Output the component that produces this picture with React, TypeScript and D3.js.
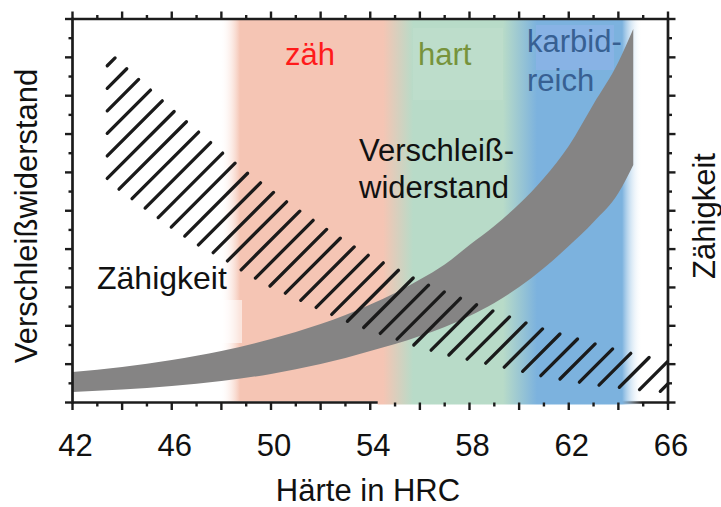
import React from 'react';
import * as d3 from 'd3';

const W = 721;
const H = 507;

// axis ticks
const xTicks = d3.range(42, 67, 1);
const xLabels = [42, 46, 50, 54, 58, 62, 66];
const yTicks = d3.range(0, 21, 1);

// Verschleißwiderstand (gray band)
const wearX = [42, 44, 46, 48, 50, 52, 53, 54, 55, 56, 57, 58, 59, 60, 61, 62, 63, 64, 64.6];
const wearUpper = [1.59, 1.85, 2.22, 2.69, 3.31, 4.09, 4.56, 5.11, 5.71, 6.41, 7.2, 8.21, 9.2, 10.35, 11.71, 13.38, 15.57, 17.76, 19.48];
const wearLower = [0.55, 0.68, 0.86, 1.12, 1.49, 2.01, 2.32, 2.69, 3.05, 3.47, 3.94, 4.51, 5.19, 6.02, 7.01, 8.16, 9.41, 10.92, 12.39];

// Zähigkeit (hatched band)
const toughX = [43.4, 44, 45, 46, 47, 48, 49, 50, 51, 52, 53, 54, 55, 56, 57, 58, 59, 60, 61, 62, 63, 64, 65, 66];
const toughUpper = [18.36, 17.62, 16.46, 15.28, 14.2, 13.06, 12.01, 11.05, 10.12, 9.23, 8.39, 7.61, 6.99, 6.31, 5.76, 5.24, 4.75, 4.28, 3.81, 3.44, 3.08, 2.71, 2.42, 2.11];
const toughLower = [11.6, 11.0, 10.07, 9.13, 8.27, 7.59, 6.75, 6.05, 5.45, 4.85, 4.28, 3.78, 3.34, 2.89, 2.53, 2.23, 1.96, 1.67, 1.36, 1.15, 0.94, 0.8, 0.65, 0.55];

// Hardness zones (gradient stops in HRC)
const zoneStops = [47.95, 48.75, 54.52, 55.73, 59.35, 60.72, 64.15, 64.96];
const zoneColors = ['#ffffff', '#f5c5b4', '#f5c5b4', '#b8dbc8', '#b8dbc8', '#7cb2de', '#7cb2de', '#ffffff'];
const zoneOpacity = [0, 1, 1, 1, 1, 1, 1, 0];

const FONT = "'Liberation Sans', Arial, Helvetica, sans-serif";
const AX = '#1c1c1c';

export default function App() {
  const x = d3.scaleLinear().domain([42, 66]).range([72.5, 668]);
  const y = d3.scaleLinear().domain([0, 20]).range([402.5, 19]);

  const wearData = wearX.map((v, i) => ({ x: v, lo: wearLower[i], hi: wearUpper[i] }));
  const wearArea = d3
    .area<{ x: number; lo: number; hi: number }>()
    .x((d) => x(d.x))
    .y0((d) => y(d.lo))
    .y1((d) => y(d.hi))
    .curve(d3.curveMonotoneX);

  // hatch lines: 45° lines x + y = c, clipped between edges
  const upPx = d3.scaleLinear().domain(toughX.map((v) => x(v))).range(toughUpper.map((v) => y(v))).clamp(true);
  const loPx = d3.scaleLinear().domain(toughX.map((v) => x(v))).range(toughLower.map((v) => y(v))).clamp(true);
  const xmin = x(toughX[0]);
  const xmax = x(toughX[toughX.length - 1]);
  const solve = (f: (p: number) => number, c: number) => {
    let a = xmin, b = xmax;
    for (let i = 0; i < 50; i++) {
      const m = (a + b) / 2;
      if (f(m) < c) a = m; else b = m;
    }
    return (a + b) / 2;
  };
  const F = (p: number) => p + upPx(p);
  const G = (p: number) => p + loPx(p);
  const hatch: { x1: number; y1: number; x2: number; y2: number }[] = [];
  const c0 = 173;
  const step = 22.53;
  for (let k = -3; k < 60; k++) {
    const c = c0 + step * k;
    if (F(xmin) > c) continue;
    if (G(xmax) < c) continue;
    const xL = G(xmin) >= c ? xmin : solve(G, c);
    const xU = F(xmax) <= c ? xmax : solve(F, c);
    if (xU - xL < 1) continue;
    hatch.push({ x1: xL, y1: c - xL, x2: xU, y2: c - xU });
  }

  const x0 = x(42), x1 = x(66);
  const top = y(20), bottom = y(0);

  return (
    <svg
      width={W}
      height={H}
      viewBox={`0 0 ${W} ${H}`}
      style={{ position: 'absolute', left: 0, top: 0, background: '#fff', fontFamily: FONT }}
    >
      <defs>
        <linearGradient id="zones" gradientUnits="userSpaceOnUse" x1={x0} x2={x1} y1={0} y2={0}>
          {zoneStops.map((s, i) => (
            <stop key={i} offset={(x(s) - x0) / (x1 - x0)} stopColor={zoneColors[i]} stopOpacity={zoneOpacity[i]} />
          ))}
        </linearGradient>
      </defs>

      {/* zones */}
      <rect x={x(zoneStops[0])} y={top + 1} width={x(zoneStops[7]) - x(zoneStops[0])} height={bottom - top - 2} fill="url(#zones)" />
      {/* label boxes */}
      <rect x={413} y={28} width={90} height={72} fill="#ffffff" opacity={0.07} />
      <rect x={536} y={25} width={78} height={45} fill="#b4b4ff" opacity={0.22} />
      <rect x={221} y={300} width={21} height={43} fill="#ffffff" opacity={0.55} />

      {/* gray wear band */}
      <path d={wearArea(wearData) || ''} fill="#858484" />

      {/* hatched toughness band */}
      <g stroke="#1a1a1a" strokeWidth={3.3} strokeLinecap="round">
        {hatch.map((h, i) => (
          <line key={i} x1={h.x1} y1={h.y1} x2={h.x2} y2={h.y2} />
        ))}
      </g>

      {/* axes frame */}
      <g stroke={AX} strokeWidth={2.7} fill="none">
        <line x1={x0} y1={top} x2={x1} y2={top} />
        <line x1={x0} y1={bottom} x2={x1} y2={bottom} />
        <line x1={x0} y1={top - 1.3} x2={x0} y2={bottom + 1.3} />
        <line x1={x1} y1={top - 1.3} x2={x1} y2={bottom + 1.3} />
      </g>
      {/* cover part of bottom axis by zones */}
      <rect x={x(54.3)} y={bottom - 2} width={x(zoneStops[7]) - x(54.3)} height={4} fill="url(#zones)" />

      {/* ticks */}
      <g stroke={AX} strokeWidth={2.4}>
        {xTicks.map((t) => {
          const len = t % 2 === 0 ? 7.5 : 4;
          return (
            <g key={t}>
              <line x1={x(t)} x2={x(t)} y1={top} y2={top - len} />
              <line x1={x(t)} x2={x(t)} y1={bottom} y2={bottom + len} />
            </g>
          );
        })}
        {yTicks.map((t) => {
          const len = t % 2 === 0 ? 7.5 : 4;
          return (
            <g key={t}>
              <line x1={x0} x2={x0 - len} y1={y(t)} y2={y(t)} />
              <line x1={x1} x2={x1 + len} y1={y(t)} y2={y(t)} />
            </g>
          );
        })}
      </g>

      {/* tick labels */}
      <g fontSize={31} fill="#111" textAnchor="middle">
        {xLabels.map((t) => (
          <text key={t} x={x(t) + 3} y={456}>
            {t}
          </text>
        ))}
      </g>
      <text x={368} y={501} fontSize={31} textAnchor="middle" fill="#111">
        Härte in HRC
      </text>

      {/* axis titles */}
      <text transform="translate(37,216) rotate(-90)" fontSize={31} textAnchor="middle" fill="#111">
        Verschleißwiderstand
      </text>
      <text transform="translate(715,216) rotate(-90)" fontSize={31} textAnchor="middle" fill="#111">
        Zähigkeit
      </text>

      {/* in-plot labels */}
      <text x={97} y={289} fontSize={32} fill="#111">
        Zähigkeit
      </text>
      <text x={359} y={161} fontSize={31} fill="#111">
        Verschleiß-
      </text>
      <text x={359} y={198} fontSize={31} fill="#111">
        widerstand
      </text>
      <text x={285} y={65} fontSize={31} fill="#ff1a1a">
        zäh
      </text>
      <text x={418} y={65} fontSize={31} fill="#77933c">
        hart
      </text>
      <text x={527} y={52} fontSize={31} fill="#376092">
        karbid-
      </text>
      <text x={527} y={91} fontSize={31} fill="#376092">
        reich
      </text>
    </svg>
  );
}
